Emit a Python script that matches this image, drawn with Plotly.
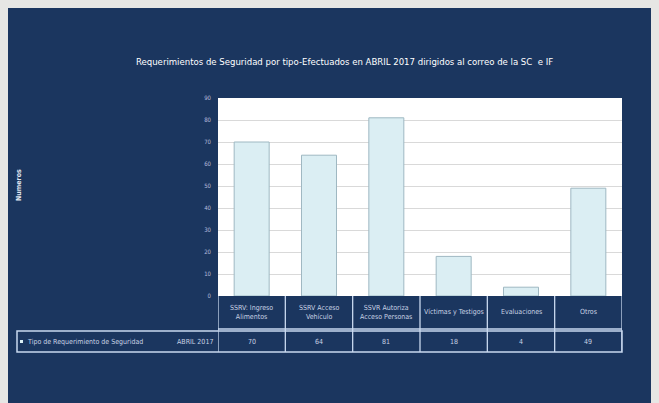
import plotly.graph_objects as go

categories = ["SSRV: Ingreso<br>Alimentos", "SSRV Acceso<br>Vehículo", "SSVR Autoriza<br>Acceso Personas",
              "Víctimas y Testigos", "Evaluaciones", "Otros"]
values = [70, 64, 81, 18, 4, 49]
series_name = "Tipo de Requerimiento de Seguridad"
period = "ABRIL 2017"
title = "Requerimientos de Seguridad por tipo-Efectuados en ABRIL 2017 dirigidos al correo de la SC  e IF"
y_title = "Numeros"
y_ticks = [0, 10, 20, 30, 40, 50, 60, 70, 80, 90]

OFF = 8  # page body margin
W, H = 659 - OFF, 403 - OFF
L, R, T, B = 218 - OFF, 622 - OFF, 98 - OFF, 296 - OFF
NAVY = "#1b365f"
LINE = "#c9d9ef"
TXT = "#c8d2e4"
FONT = "Liberation Sans Narrow, DejaVu Sans Condensed, Liberation Sans, sans-serif"

def px(x):
    return (x - OFF - L) / (R - L)

def py(y):
    return (B - (y - OFF)) / (B - T)

fig = go.Figure()
fig.add_trace(go.Bar(
    x=list(range(len(values))), y=values,
    marker=dict(color="#dbeef3", line=dict(color="#9fb8c2", width=1)),
    width=0.52, showlegend=False, hoverinfo="skip"))

shapes = []
n = len(categories)
for i in range(n + 1):
    shapes.append(dict(type="line", xref="x", yref="paper", x0=i - 0.5, x1=i - 0.5,
                       y0=py(296), y1=py(352), line=dict(color=LINE, width=1.3)))
shapes.append(dict(type="line", xref="paper", yref="paper", x0=px(218), x1=px(622),
                   y0=py(329), y1=py(329), line=dict(color=LINE, width=1.3)))
shapes.append(dict(type="rect", xref="paper", yref="paper", x0=px(17), x1=px(622),
                   y0=py(331), y1=py(352), line=dict(color=LINE, width=1.5)))
shapes.append(dict(type="rect", xref="paper", yref="paper", x0=px(20), x1=px(23),
                   y0=py(340), y1=py(343), fillcolor="#dbeef3", line=dict(width=0)))

annotations = []
for i, (c, v) in enumerate(zip(categories, values)):
    annotations.append(dict(x=i, xref="x", y=py(312), yref="paper", text=c, showarrow=False,
                            xanchor="center", yanchor="middle",
                            font=dict(size=7, color=TXT, family=FONT), align="center"))
    annotations.append(dict(x=i, xref="x", y=py(341.5), yref="paper", text=str(v), showarrow=False,
                            xanchor="center", yanchor="middle",
                            font=dict(size=7, color=TXT, family=FONT)))
annotations.append(dict(x=px(25), xref="paper", y=py(341.5), yref="paper", text=series_name,
                        showarrow=False, xanchor="left", yanchor="middle",
                        font=dict(size=7, color=TXT, family=FONT)))
annotations.append(dict(x=px(215), xref="paper", y=py(341.5), yref="paper", text=period,
                        showarrow=False, xanchor="right", yanchor="middle",
                        font=dict(size=7, color=TXT, family=FONT)))
annotations.append(dict(x=px(19), xref="paper", y=py(185), yref="paper", text="<b>" + y_title + "</b>",
                        showarrow=False, textangle=-90, xanchor="center", yanchor="middle",
                        font=dict(size=7, color="#e0e6f0", family=FONT)))
annotations.append(dict(x=px(344), xref="paper", y=py(61), yref="paper", text=title,
                        showarrow=False, xanchor="center", yanchor="middle",
                        font=dict(size=9.5, color="#ffffff", family=FONT)))

fig.update_layout(
    width=W, height=H,
    margin=dict(l=L, r=W - R, t=T, b=H - B),
    paper_bgcolor=NAVY, plot_bgcolor="#ffffff",
    xaxis=dict(range=[-0.5, n - 0.5], showticklabels=False, showgrid=False, zeroline=False,
               ticks="", fixedrange=True),
    yaxis=dict(range=[0, 90], tickvals=y_ticks, showgrid=True, gridcolor="#d9d9d9", gridwidth=1,
               zeroline=False, tickfont=dict(size=6, color="#b8bcdc", family=FONT),
               ticks="", ticklabelstandoff=6),
    shapes=shapes, annotations=annotations,
    font=dict(family=FONT),
)
fig.write_html("out.html", post_script="document.body.style.background='#e6e6e4';")
